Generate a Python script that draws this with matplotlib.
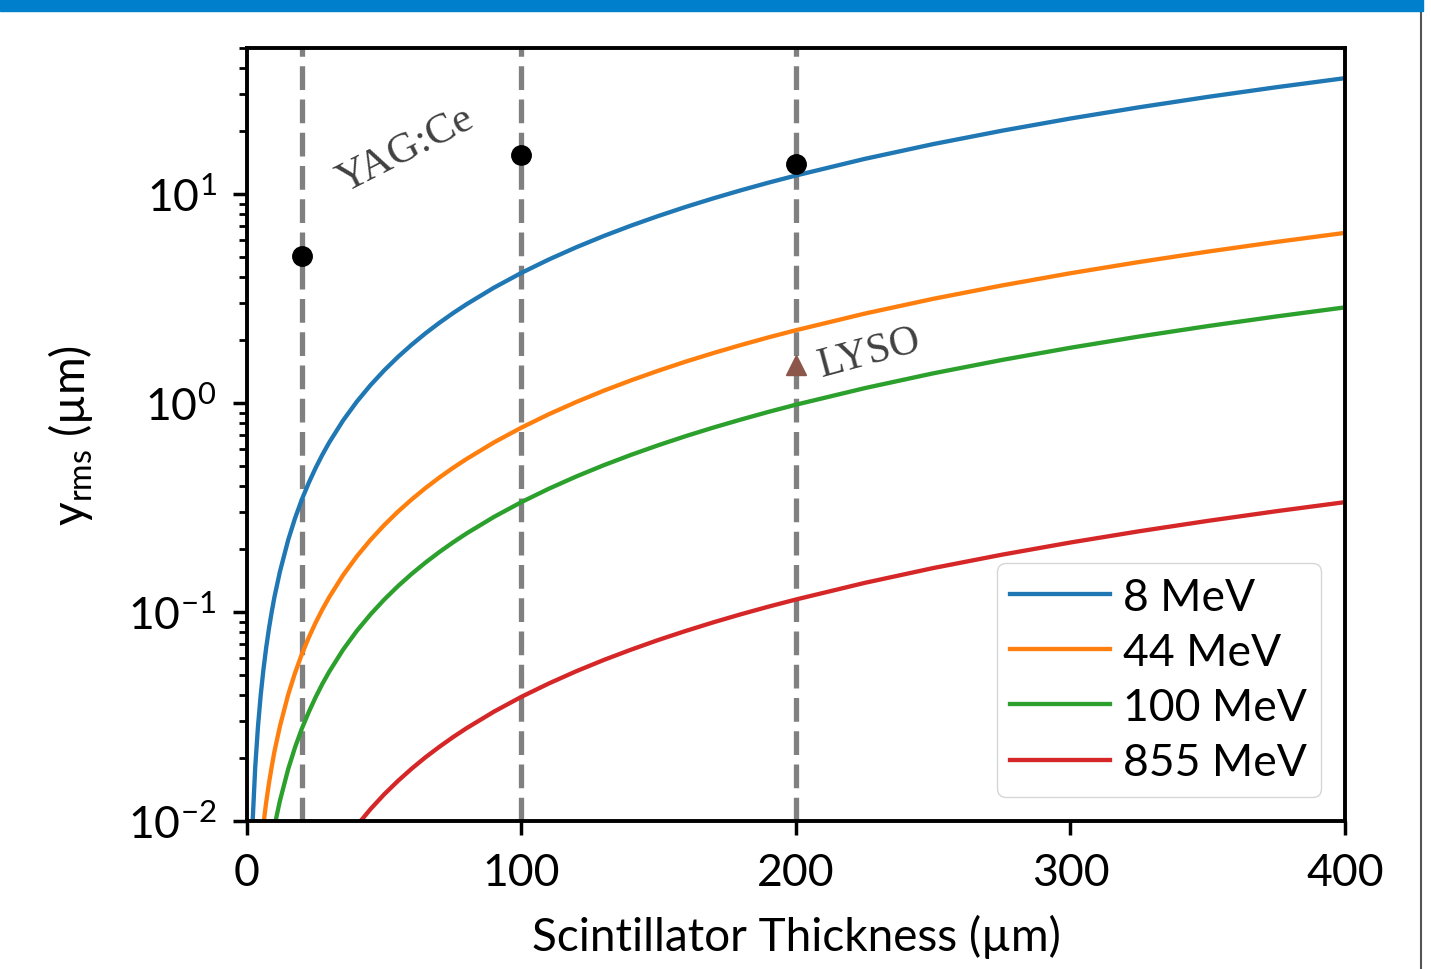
import matplotlib
matplotlib.use('Agg')
import matplotlib.pyplot as plt
from matplotlib.patches import Rectangle
from matplotlib.lines import Line2D

# values (log y axis)
thickness = [1, 2, 3, 4, 5, 6, 7, 8, 9, 10, 12, 15, 17.5, 20, 22.5, 25, 27.5, 30,
             35, 40, 45, 50, 55, 60, 65, 70, 75, 80, 90, 100, 110, 120, 130, 140,
             150, 160, 170, 180, 190, 200, 225, 250, 275, 300, 325, 350, 375, 400]
y_8mev = [0.00325, 0.0096, 0.0181, 0.0283, 0.0401, 0.0532, 0.0677, 0.0833, 0.1000,
          0.118, 0.156, 0.221, 0.281, 0.346, 0.415, 0.489, 0.567, 0.649,
          0.825, 1.015, 1.218, 1.434, 1.662, 1.902, 2.154, 2.416, 2.689, 2.971,
          3.566, 4.198, 4.865, 5.567, 6.302, 7.069, 7.865, 8.694, 9.547, 10.43,
          11.34, 12.27, 14.73, 17.34, 20.09, 22.99, 26.01, 29.17, 32.45, 35.86]
y_44mev = [0.000591, 0.00175, 0.00329, 0.00515, 0.00729, 0.00967, 0.01231, 0.01515,
           0.01818, 0.0215, 0.0284, 0.0402, 0.0511, 0.0629, 0.0755, 0.0889, 0.1031,
           0.118, 0.1500, 0.1845, 0.2214, 0.2607, 0.3022, 0.3458, 0.3916, 0.4393,
           0.4889, 0.540, 0.6483, 0.763, 0.8845, 1.012, 1.146, 1.285, 1.430, 1.581,
           1.736, 1.896, 2.062, 2.231, 2.678, 3.153, 3.652, 4.180, 4.729, 5.304,
           5.900, 6.52]
y_100mev = [0.00026, 0.00077, 0.00145, 0.00226, 0.00321, 0.00426, 0.00542, 0.00666,
            0.0080, 0.00944, 0.0125, 0.0177, 0.0225, 0.0277, 0.0332, 0.0391, 0.0454,
            0.0519, 0.0660, 0.0812, 0.0974, 0.1147, 0.1330, 0.1522, 0.1723, 0.1933,
            0.2151, 0.2377, 0.2853, 0.3358, 0.3892, 0.4454, 0.5042, 0.5655, 0.6292,
            0.6955, 0.7638, 0.834, 0.9072, 0.982, 1.178, 1.387, 1.607, 1.839, 2.081,
            2.334, 2.596, 2.869]
y_855mev = [3.0e-5, 9.0e-5, 1.69e-4, 2.65e-4, 3.75e-4, 4.98e-4, 6.33e-4, 7.8e-4,
            9.36e-4, 0.0011, 0.00146, 0.00207, 0.00263, 0.00324, 0.00389, 0.00458,
            0.00531, 0.00607, 0.00772, 0.0095, 0.0114, 0.01342, 0.01555, 0.0178,
            0.02016, 0.0226, 0.02516, 0.0278, 0.03337, 0.0393, 0.04552, 0.0521,
            0.05897, 0.0661, 0.07359, 0.0813, 0.08933, 0.0976, 0.1061, 0.1148,
            0.1378, 0.1623, 0.188, 0.2151, 0.2434, 0.2729, 0.3036, 0.3355]
labels = ['8 MeV', '44 MeV', '100 MeV', '855 MeV']

yag_x = [20, 100, 200]
yag_y = [5.03, 15.4, 13.9]
lyso_x = [200]
lyso_y = [1.52]
screens = [20, 100, 200]

plt.rcParams['font.family'] = ['Lato', 'DejaVu Sans']
plt.rcParams['mathtext.default'] = 'regular'

fig = plt.figure(figsize=(14.31, 9.70), dpi=100)
ax = fig.add_axes([0.1726, 0.1526, 0.9399 - 0.1726, 0.9495 - 0.1526])

for xv in screens:
    ax.axvline(xv, color='gray', lw=3.8, dashes=(4.5, 1.8), zorder=1)

series = [y_8mev, y_44mev, y_100mev, y_855mev]
colors = ['tab:blue', 'tab:orange', 'tab:green', 'tab:red']
for ys, c, lab in zip(series, colors, labels):
    ax.plot(thickness, ys, color=c, lw=3.1, label=lab, zorder=2)

ax.plot(yag_x, yag_y, 'o', color='black', ms=14, zorder=3)
ax.plot(lyso_x, lyso_y, '^', color='tab:brown', ms=14, zorder=3)

ax.text(58, 16.3, 'YAG:Ce', rotation=27, ha='center', va='center',
        family='Liberation Serif', fontsize=31, color='#404040')
ax.text(227, 1.75, 'LYSO', rotation=15, ha='center', va='center',
        family='Liberation Serif', fontsize=30, color='#404040')

ax.set_yscale('log')
ax.set_xlim(0, 400)
ax.set_ylim(0.01, 50)
ax.set_xticks([0, 100, 200, 300, 400])

ax.set_xlabel('Scintillator Thickness (µm)', fontsize=33, labelpad=15)
ax.set_ylabel(r'y$_{rms}$ (µm)', fontsize=33, labelpad=24)
ax.tick_params(which='major', labelsize=32, length=10, width=2.5)
ax.tick_params(axis='x', which='major', pad=12)
ax.tick_params(axis='y', which='major', pad=12)
ax.tick_params(which='minor', length=6, width=2)
for s in ax.spines.values():
    s.set_linewidth(2.8)

ax.legend(loc='lower right', fontsize=32, handlelength=2.25, handletextpad=0.3,
          labelspacing=0.32, borderaxespad=0.55, borderpad=0.3)

# blue banner and side rule of the page
fig.patches.append(Rectangle((0, 1 - 12 / 970), 1423 / 1431, 12 / 970,
                             transform=fig.transFigure, color='#0080cc', zorder=10))
fig.lines.append(Line2D([1421 / 1431, 1421 / 1431], [0, 1 - 12 / 970],
                        transform=fig.transFigure, color='#555555', lw=1.5))

fig.savefig('out.png', dpi=100)
